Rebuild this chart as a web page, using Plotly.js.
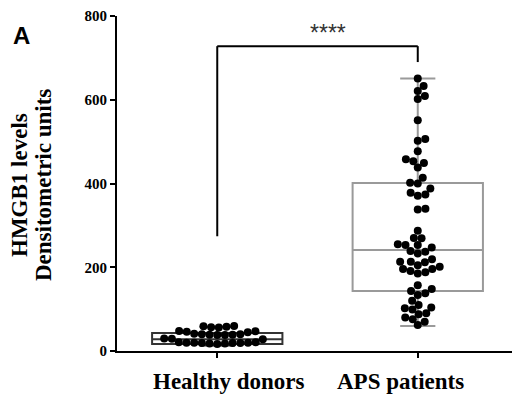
<!DOCTYPE html>
<html>
<head>
<meta charset="utf-8">
<script src="https://cdn.plot.ly/plotly-3.0.1.min.js"></script>
<style>
  html, body { margin: 0; padding: 0; background: #fff; }
  #chart { width: 512px; height: 395px; }
</style>
</head>
<body>
<div id="chart"></div>
<script>
// Groups on the x axis
const categories = ['Healthy donors', 'APS patients'];

// HMGB1 levels (densitometric units) per subject
const healthy = [60, 59, 58, 57, 56, 48, 47, 46, 45, 41, 40, 40, 39, 39, 38, 38,
                 30, 29, 28, 21, 21, 20, 20, 20, 19, 19, 19, 18, 18, 17];
const aps = [651, 633, 621, 609, 602, 551, 506, 502,
             477, 458, 453, 449, 438, 414, 402, 400, 388, 378, 374, 371,
             340, 338, 287, 270, 269, 255, 253, 253, 247, 239, 237, 233,
             219, 213, 213, 212, 205, 201, 196, 196, 191, 188, 185,
             157, 148, 143, 138, 134, 120, 110, 104, 102, 99, 90, 88, 80, 76, 70, 62];

// Box summaries (min-to-max whiskers)
const boxQ1 = [17, 143];
const boxMedian = [28, 241];
const boxQ3 = [43, 401];
const boxMin = [13, 60];
const boxMax = [58, 651];

// Axis ticks
const yTicks = [0, 200, 400, 600, 800];

// Axis title lines and significance label
const yTitleLines = ['HMGB1 levels', 'Densitometric units'];
const sigText = '****';

// Plot geometry
const W = 512, H = 395;
const M = { l: 117, r: 0, t: 16, b: 44 };
const xRange = [-0.5, 1.47];
const yRange = [0, 800];
const plotW = W - M.l - M.r, plotH = H - M.t - M.b;
const pxPerX = plotW / (xRange[1] - xRange[0]);
const pxPerY = plotH / (yRange[1] - yRange[0]);
const dotSize = 8;

// Beeswarm layout: horizontal offsets so dots of the same group do not overlap
function swarm(values, diam) {
  const order = values.map((v, i) => i).sort((a, b) => values[a] - values[b]);
  const placed = [];
  const off = new Array(values.length);
  for (const i of order) {
    const y = values[i] * pxPerY;
    const near = placed.filter(p => Math.abs(p.y - y) < diam);
    const cands = [0];
    near.forEach(p => {
      const dx = Math.sqrt(diam * diam - (p.y - y) * (p.y - y));
      cands.push(p.x + dx, p.x - dx);
    });
    cands.sort((a, b) => Math.abs(a) - Math.abs(b));
    let x = 0;
    for (const c of cands) {
      if (near.every(p => (p.x - c) ** 2 + (p.y - y) ** 2 >= diam * diam - 1e-6)) { x = c; break; }
    }
    placed.push({ x, y });
    off[i] = x / pxPerX;
  }
  return off;
}

const groups = [healthy, aps];
const boxColors = ['#333333', '#9a9a9a'];
const traces = [];

groups.forEach((vals, g) => {
  traces.push({
    type: 'box',
    x: [g],
    q1: [boxQ1[g]], median: [boxMedian[g]], q3: [boxQ3[g]],
    lowerfence: [boxMin[g]], upperfence: [boxMax[g]],
    width: 0.65,
    whiskerwidth: 0.27,
    boxpoints: false,
    fillcolor: 'rgba(0,0,0,0)',
    line: { color: boxColors[g], width: 2 },
    hoverinfo: 'skip',
    showlegend: false
  });
});

groups.forEach((vals, g) => {
  const offs = swarm(vals, dotSize - 0.3);
  traces.push({
    type: 'scatter',
    mode: 'markers',
    x: vals.map((v, i) => g + offs[i]),
    y: vals,
    marker: { size: dotSize, color: '#000' },
    cliponaxis: false,
    hoverinfo: 'y',
    showlegend: false
  });
});

const serif = 'Liberation Serif, Times New Roman, serif';
const sans = 'Liberation Sans, Arial, sans-serif';
const bracketTop = 728, bracketLeftEnd = 274, bracketRightEnd = 690;
const bold = s => '<b>' + s + '</b>';
const paperX = px => (px - M.l) / plotW;
const paperY = py => (H - M.b - py) / plotH;

const layout = {
  width: W, height: H,
  margin: M,
  paper_bgcolor: '#fff', plot_bgcolor: '#fff',
  showlegend: false,
  xaxis: {
    range: xRange,
    tickvals: [0, 1],
    ticktext: ['', ''],
    ticks: 'outside', ticklen: 5, tickwidth: 2, tickcolor: '#000',
    showline: true, linecolor: '#000', linewidth: 2,
    showgrid: false, zeroline: false, fixedrange: true
  },
  yaxis: {
    range: yRange,
    tickvals: yTicks,
    ticktext: yTicks.map(v => bold(String(v))),
    ticks: 'outside', ticklen: 5, tickwidth: 2, tickcolor: '#000',
    tickfont: { family: serif, size: 15, color: '#000' },
    showline: true, linecolor: '#000', linewidth: 2,
    showgrid: false, zeroline: false, fixedrange: true
  },
  shapes: [
    { type: 'line', xref: 'x', yref: 'y', x0: 0, x1: 0, y0: bracketLeftEnd, y1: bracketTop, line: { color: '#000', width: 2 } },
    { type: 'line', xref: 'x', yref: 'y', x0: 0, x1: 1, y0: bracketTop, y1: bracketTop, line: { color: '#000', width: 2 } },
    { type: 'line', xref: 'x', yref: 'y', x0: 1, x1: 1, y0: bracketRightEnd, y1: bracketTop, line: { color: '#000', width: 2 } }
  ],
  annotations: [
    { text: sigText, xref: 'x', yref: 'y', x: 0.55, y: 760, showarrow: false,
      xanchor: 'center', yanchor: 'middle',
      font: { family: sans, size: 23, color: '#333' } },
    { text: bold(categories[0]), xref: 'x', yref: 'paper', x: 0, y: 0, xshift: 11, yshift: -16,
      showarrow: false, xanchor: 'center', yanchor: 'top',
      font: { family: serif, size: 23, color: '#000' } },
    { text: bold(categories[1]), xref: 'x', yref: 'paper', x: 1, y: 0, xshift: -17, yshift: -16,
      showarrow: false, xanchor: 'center', yanchor: 'top',
      font: { family: serif, size: 23, color: '#000' } },
    { text: bold(yTitleLines[0]), xref: 'paper', yref: 'paper',
      x: paperX(19), y: paperY(185), textangle: -90, showarrow: false,
      xanchor: 'center', yanchor: 'middle',
      font: { family: serif, size: 23, color: '#000' } },
    { text: bold(yTitleLines[1]), xref: 'paper', yref: 'paper',
      x: paperX(43), y: paperY(185), textangle: -90, showarrow: false,
      xanchor: 'center', yanchor: 'middle',
      font: { family: serif, size: 23, color: '#000' } },
    { text: bold('A'), xref: 'paper', yref: 'paper',
      x: paperX(21), y: paperY(35), showarrow: false,
      xanchor: 'center', yanchor: 'middle',
      font: { family: sans, size: 24, color: '#000' } }
  ]
};

Plotly.newPlot('chart', traces, layout, { displayModeBar: false, staticPlot: true });
</script>
</body>
</html>
